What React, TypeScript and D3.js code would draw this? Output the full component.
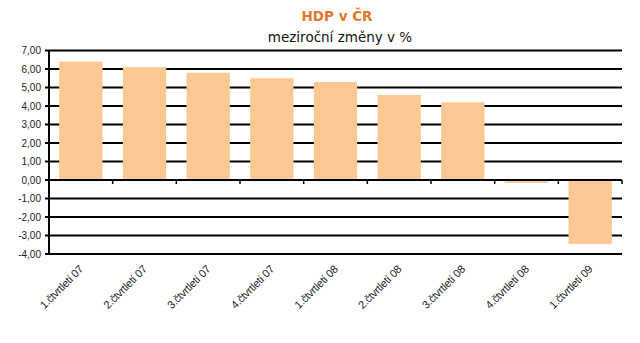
import React from "react";
import * as d3 from "d3";

const categories = [
  "1.čtvrtletí 07",
  "2.čtvrtletí 07",
  "3.čtvrtletí 07",
  "4.čtvrtletí 07",
  "1.čtvrtletí 08",
  "2.čtvrtletí 08",
  "3.čtvrtletí 08",
  "4.čtvrtletí 08",
  "1.čtvrtletí 09",
];
const values = [6.4, 6.1, 5.8, 5.5, 5.3, 4.6, 4.2, -0.1, -3.4];
const yTicks = [7, 6, 5, 4, 3, 2, 1, 0, -1, -2, -3, -4];
const title = "HDP v ČR";
const subtitle = "meziroční změny v %";

export default function App() {
  const W = 640;
  const H = 343;
  const left = 49;
  const right = 622;
  const top = 50.5;
  const bottom = 254;

  const x = d3.scaleBand<string>().domain(categories).range([left, right]).paddingInner(0.32).paddingOuter(0.16);
  const bandStep = (right - left) / categories.length;
  const y = d3.scaleLinear().domain([-4, 7]).range([bottom, top]);
  const fmt = (v: number) => v.toFixed(2).replace(".", ",");

  return (
    <svg width={W} height={H} style={{ position: "absolute", left: 0, top: 0, background: "#fff" }}>
      <text x={337} y={21} textAnchor="middle" fontFamily="'DejaVu Sans', sans-serif" fontWeight="bold" fontSize={13.5} fill="#E2772A">
        {title}
      </text>
      <text x={340} y={42} textAnchor="middle" fontFamily="'DejaVu Sans', sans-serif" fontSize={13.5} fill="#111">
        {subtitle}
      </text>
      {yTicks.map((t) => (
        <g key={t}>
          <line x1={left - 4} x2={right} y1={y(t)} y2={y(t)} stroke="#000" strokeWidth={2} />
          <text x={41} y={y(t) + 3.5} textAnchor="end" fontFamily="'Liberation Sans', Arial, sans-serif" fontSize={10} fill="#222">
            {fmt(t)}
          </text>
        </g>
      ))}
      {values.map((v, i) => (
        <rect
          key={categories[i]}
          x={x(categories[i])}
          width={x.bandwidth()}
          y={y(Math.max(0, v)) + (v >= 0 ? 0 : 1)}
          height={Math.max(1, Math.abs(y(v) - y(0)) - (v >= 0 ? 1 : 0))}
          fill="#FAC993"
        />
      ))}
      <line x1={left} x2={right} y1={y(0)} y2={y(0)} stroke="#000" strokeWidth={2} />
      {d3.range(1, categories.length + 1).map((i) => (
        <line key={i} x1={left + i * bandStep} x2={left + i * bandStep} y1={y(0)} y2={y(0) + 4} stroke="#000" strokeWidth={1.5} />
      ))}
      <line x1={left} x2={left} y1={top} y2={bottom} stroke="#000" strokeWidth={2} />
      {categories.map((c) => {
        const cx = (x(c) as number) + x.bandwidth() / 2 + 3;
        const cy = bottom + 16;
        return (
          <text
            key={c}
            transform={`translate(${cx},${cy}) rotate(-45)`}
            textAnchor="end"
            fontFamily="'Liberation Sans', Arial, sans-serif"
            fontSize={11}
            letterSpacing={-0.3}
            fill="#222"
          >
            {c}
          </text>
        );
      })}
    </svg>
  );
}
